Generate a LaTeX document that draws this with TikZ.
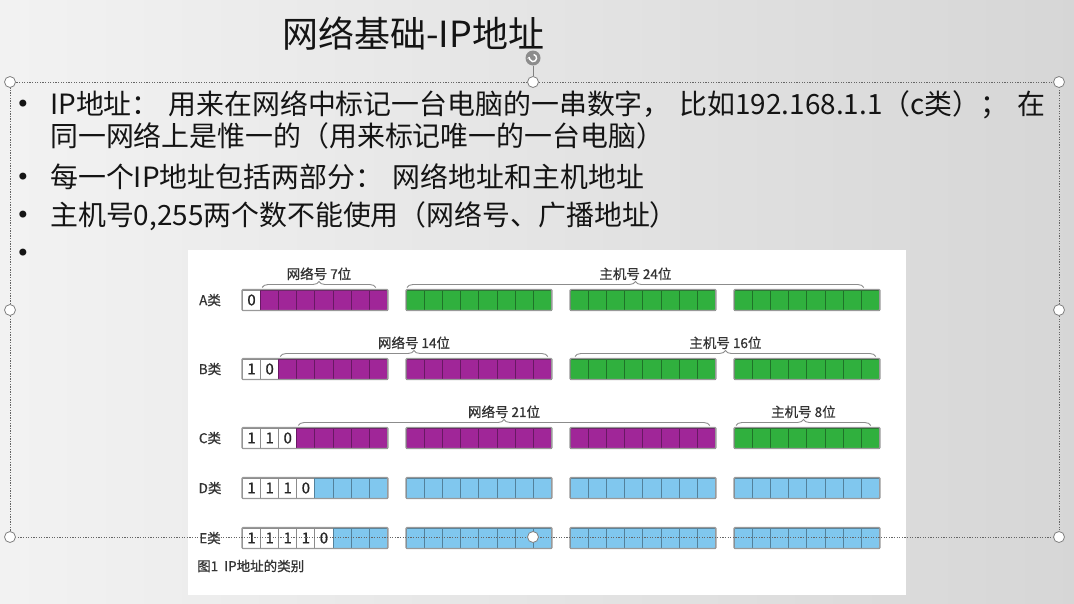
\documentclass[tikz,border=0pt]{standalone}
\usepackage{fontspec}
\usepackage{xcolor}
\usetikzlibrary{
    arrows.meta,
    positioning,
    calc,
    decorations.pathreplacing
}
\newfontfamily\cjk{Noto Sans CJK SC}
\newfontfamily\cjkfig{Noto Sans CJK SC}[FakeBold=0.7]
\newfontfamily\dejavu{DejaVu Sans}
\definecolor{ipPurple}{RGB}{160,38,152}
\definecolor{ipGreen}{RGB}{48,176,62}
\definecolor{ipBlue}{RGB}{128,199,238}
\definecolor{slideText}{RGB}{20,20,20}

\tikzset{
    slidetext/.style={font=\cjk\fontsize{27.9}{30}\selectfont, text=slideText, inner sep=0pt, anchor=base west},
    bulletdot/.style={font=\dejavu\fontsize{24}{26}\selectfont, text=slideText, inner sep=0pt, anchor=base},
    bitcell/.style={draw=#1!65!black, fill=#1, line width=1pt, minimum width=18.1pt, minimum height=20pt, inner sep=0pt, anchor=west},
    bitfix/.style={draw=black!45, fill=white, line width=1pt, minimum width=18.1pt, minimum height=20pt, inner sep=0pt, anchor=west, font=\cjkfig\fontsize{15}{15}\selectfont, text=black!85},
    octet/.style={draw=black!40, line width=1.4pt, rounded corners=1pt},
    rowlabel/.style={font=\cjkfig\fontsize{13.5}{13.5}\selectfont, text=black!80, inner sep=0pt},
    bitbrace/.style={draw=black!45, line width=0.9pt, decorate, decoration={brace, amplitude=6pt}},
    bracelabel/.style={font=\cjkfig\fontsize{13.5}{13.5}\selectfont, text=black!80, above=7pt, inner sep=0pt, fill=white},
    selbox/.style={draw=black!60, line width=0.7pt, dash pattern=on 1.3pt off 1.3pt},
    handle/.style={circle, draw=black!50, fill=white, line width=0.8pt, minimum size=11pt, inner sep=0pt}
}

\begin{document}
\begin{tikzpicture}[x=1pt,y=-1pt]
\useasboundingbox (0,0) rectangle (1074,603);
% slide background
\shade[left color=black!5, right color=black!16] (0,0) rectangle (1074,603);

% title
\node[font=\cjk\fontsize{36}{38}\selectfont, text=slideText, inner sep=0pt, anchor=base west] (title) at (282,47) {网络基础-IP地址};

% bullet list
\node[bulletdot] (bul1) at (23,112) {•};
\node[slidetext] (line1) at (50,114) {\makebox[995pt][s]{IP地址：\hfill 用来在网络中标记一台电脑的一串数字，\hfill 比如192.168.1.1（c类）；\hfill 在}};
\node[slidetext] (line2) at (50,146) {同一网络上是惟一的（用来标记唯一的一台电脑）};
\node[bulletdot] (bul2) at (23,185) {•};
\node[slidetext] (line3) at (50,187) {每一个IP地址包括两部分：\hspace{10pt}网络地址和主机地址};
\node[bulletdot] (bul3) at (23,223) {•};
\node[slidetext] (line4) at (50,225) {主机号0,255两个数不能使用（网络号、广播地址）};
\node[bulletdot] (bul4) at (23,261) {•};

% picture of the address classes
\fill[white] (188,250) rectangle (906,595);
\foreach \r/\yy/\np/\ca/\cb/\cc/\cd in {A/300/1/ipPurple/ipGreen/ipGreen/ipGreen,
        B/369/2/ipPurple/ipPurple/ipGreen/ipGreen,
        C/438/3/ipPurple/ipPurple/ipPurple/ipGreen,
        D/488/4/ipBlue/ipBlue/ipBlue/ipBlue,
        E/538/5/ipBlue/ipBlue/ipBlue/ipBlue} {
    \node[rowlabel] (lab\r) at (210,\yy) {\r{}类};
    \foreach \o/\col in {1/\ca,2/\cb,3/\cc,4/\cd} {
        \foreach \b in {1,...,8} {
            \pgfmathsetmacro\xx{242+164*(\o-1)+18.1*(\b-1)}
            \pgfmathtruncatemacro\isfix{(\o==1)&&(\b<=\np)}
            \pgfmathtruncatemacro\dig{\b<\np}
            \ifnum\isfix=1
                \node[bitfix] (\r-\o-\b) at (\xx,\yy) {\dig};
            \else
                \node[bitcell=\col] (\r-\o-\b) at (\xx,\yy) {};
            \fi
        }
        \draw[octet] (\r-\o-1.north west) rectangle (\r-\o-8.south east);
    }
}

% braces over the fields
\draw[bitbrace] ([xshift=2pt,yshift=2pt]A-1-2.north west) -- node[bracelabel] {网络号 7位} ([xshift=-12pt,yshift=2pt]A-1-8.north east);
\draw[bitbrace] ([xshift=1pt,yshift=2pt]A-2-1.north west) -- node[bracelabel] {主机号 24位} ([xshift=-16pt,yshift=2pt]A-4-8.north east);
\draw[bitbrace] ([xshift=2pt,yshift=2pt]B-1-3.north west) -- node[bracelabel] {网络号 14位} ([xshift=-4pt,yshift=2pt]B-2-8.north east);
\draw[bitbrace] ([xshift=5pt,yshift=2pt]B-3-1.north west) -- node[bracelabel] {主机号 16位} ([xshift=-4pt,yshift=2pt]B-4-8.north east);
\draw[bitbrace] ([xshift=2pt,yshift=2pt]C-1-4.north west) -- node[bracelabel] {网络号 21位} ([xshift=-6pt,yshift=2pt]C-3-8.north east);
\draw[bitbrace] ([xshift=2pt,yshift=2pt]C-4-1.north west) -- node[bracelabel] {主机号 8位} ([xshift=-9pt,yshift=2pt]C-4-8.north east);

\node[rowlabel, anchor=west] (caption) at (197,566) {图1\hspace{6pt}IP地址的类别};

% selection frame with handles
\coordinate (selNW) at (10,82);
\coordinate (selSE) at (1059,537);
\draw[selbox] (selNW) rectangle (selSE);
\node[circle, fill=black!45, minimum size=15pt, inner sep=0pt] (rot) at (533,58) {};
\node[handle] (hN) at (533,82) {};
\draw[black!50, line width=0.8pt] (rot) -- (hN);
\draw[white, line width=1.4pt, -{Stealth[length=2.5pt,width=4pt]}] ([shift={(80:3.6pt)}]rot.center) arc[start angle=80, end angle=-200, radius=3.6pt];
\node[handle] (hNW) at (selNW) {};
\node[handle] (hNE) at (1059,82) {};
\node[handle] (hW) at (10,310) {};
\node[handle] (hE) at (1059,310) {};
\node[handle] (hSW) at (10,537) {};
\node[handle] (hS) at (533,537) {};
\node[handle] (hSE) at (selSE) {};
\end{tikzpicture}
\end{document}
